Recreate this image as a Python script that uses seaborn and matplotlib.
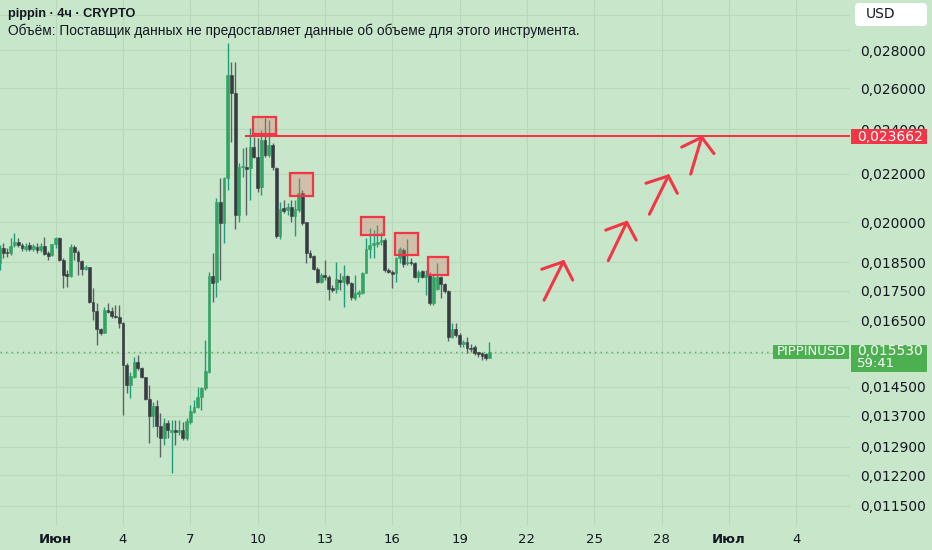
import numpy as np
import pandas as pd
import matplotlib
matplotlib.use("Agg")
import matplotlib.pyplot as plt
import matplotlib.dates as mdates
from matplotlib.patches import Rectangle, FancyBboxPatch
from matplotlib.ticker import FixedLocator, NullLocator
from matplotlib.transforms import IdentityTransform
import seaborn as sns

# pippin / USD, 4h candles
opens = [0.01846, 0.01901, 0.01889, 0.01883, 0.01914, 0.01926, 0.01914, 0.01899, 0.01914, 0.01898,
         0.01907, 0.01895, 0.01910, 0.01883, 0.01877, 0.01917, 0.01939, 0.01858, 0.01805, 0.01802,
         0.01905, 0.01889, 0.01856, 0.01827, 0.01832, 0.01713, 0.01683, 0.01623, 0.01611, 0.01685,
         0.01683, 0.01666, 0.01661, 0.01642, 0.01514, 0.01456, 0.01479, 0.01523, 0.01504, 0.01478,
         0.01415, 0.01370, 0.01397, 0.01343, 0.01312, 0.01352, 0.01329, 0.01333, 0.01328, 0.01333,
         0.01312, 0.01355, 0.01381, 0.01395, 0.01421, 0.01446, 0.01494, 0.01801, 0.01781, 0.02083,
         0.01996, 0.02180, 0.02668, 0.02574, 0.02029, 0.02227, 0.02230, 0.02223, 0.02316, 0.02274,
         0.02144, 0.02349, 0.02282, 0.02327, 0.02226, 0.01947, 0.02056, 0.02049, 0.02060, 0.02025,
         0.02049, 0.02119, 0.02000, 0.01885, 0.01873, 0.01825, 0.01781, 0.01805, 0.01798, 0.01758,
         0.01755, 0.01787, 0.01781, 0.01801, 0.01778, 0.01724, 0.01739, 0.01741, 0.01813, 0.01897,
         0.01914, 0.01917, 0.01926, 0.01932, 0.01822, 0.01816, 0.01811, 0.01864, 0.01895, 0.01846,
         0.01852, 0.01848, 0.01797, 0.01819, 0.01798, 0.01805, 0.01707, 0.01755, 0.01797, 0.01773,
         0.01749, 0.01600, 0.01623, 0.01605, 0.01577, 0.01584, 0.01564, 0.01569, 0.01549, 0.01549,
         0.01546, 0.01535]
highs = [0.01914, 0.01920, 0.01902, 0.01939, 0.01958, 0.01940, 0.01920, 0.01921, 0.01926, 0.01917,
         0.01920, 0.01921, 0.01945, 0.01892, 0.01919, 0.01945, 0.01945, 0.01864, 0.01822, 0.01917,
         0.01914, 0.01895, 0.01858, 0.01840, 0.01834, 0.01758, 0.01707, 0.01627, 0.01696, 0.01707,
         0.01696, 0.01702, 0.01702, 0.01647, 0.01519, 0.01494, 0.01538, 0.01543, 0.01508, 0.01479,
         0.01456, 0.01409, 0.01413, 0.01377, 0.01364, 0.01359, 0.01359, 0.01359, 0.01359, 0.01355,
         0.01364, 0.01400, 0.01413, 0.01451, 0.01451, 0.01589, 0.01816, 0.01883, 0.02096, 0.02180,
         0.02187, 0.02838, 0.02738, 0.02738, 0.02245, 0.02312, 0.02319, 0.02404, 0.02365, 0.02357,
         0.02396, 0.02451, 0.02443, 0.02334, 0.02230, 0.02083, 0.02089, 0.02076, 0.02089, 0.02089,
         0.02180, 0.02131, 0.02003, 0.01895, 0.01877, 0.01834, 0.01811, 0.01858, 0.01805, 0.01770,
         0.01852, 0.01811, 0.01840, 0.01805, 0.01781, 0.01805, 0.01752, 0.01816, 0.01939, 0.01977,
         0.01970, 0.01990, 0.01964, 0.01939, 0.01828, 0.01822, 0.01870, 0.01905, 0.01901, 0.01935,
         0.01864, 0.01852, 0.01822, 0.01822, 0.01822, 0.01816, 0.01805, 0.01846, 0.01801, 0.01776,
         0.01752, 0.01642, 0.01642, 0.01610, 0.01589, 0.01600, 0.01577, 0.01574, 0.01553, 0.01553,
         0.01550, 0.01584]
lows = [0.01822, 0.01864, 0.01869, 0.01877, 0.01907, 0.01906, 0.01892, 0.01891, 0.01892, 0.01891,
        0.01883, 0.01888, 0.01877, 0.01858, 0.01873, 0.01901, 0.01856, 0.01758, 0.01764, 0.01799,
        0.01858, 0.01805, 0.01805, 0.01822, 0.01707, 0.01653, 0.01574, 0.01605, 0.01610, 0.01674,
        0.01658, 0.01658, 0.01626, 0.01373, 0.01432, 0.01418, 0.01475, 0.01499, 0.01475, 0.01413,
        0.01299, 0.01342, 0.01316, 0.01265, 0.01294, 0.01312, 0.01226, 0.01294, 0.01320, 0.01307,
        0.01307, 0.01350, 0.01377, 0.01391, 0.01386, 0.01441, 0.01491, 0.01713, 0.01730, 0.01787,
        0.01920, 0.02131, 0.02342, 0.01973, 0.02003, 0.02187, 0.02029, 0.02089, 0.02267, 0.02124,
        0.02110, 0.02274, 0.02274, 0.02216, 0.01939, 0.01935, 0.02036, 0.02029, 0.02000, 0.01947,
        0.02042, 0.01990, 0.01848, 0.01864, 0.01822, 0.01776, 0.01776, 0.01787, 0.01718, 0.01747,
        0.01741, 0.01752, 0.01696, 0.01770, 0.01718, 0.01718, 0.01730, 0.01739, 0.01811, 0.01864,
        0.01864, 0.01907, 0.01914, 0.01816, 0.01811, 0.01758, 0.01781, 0.01846, 0.01834, 0.01840,
        0.01840, 0.01793, 0.01781, 0.01793, 0.01735, 0.01702, 0.01702, 0.01752, 0.01724, 0.01741,
        0.01587, 0.01595, 0.01600, 0.01569, 0.01569, 0.01549, 0.01553, 0.01543, 0.01538, 0.01528,
        0.01528, 0.01533]
closes = [0.01901, 0.01883, 0.01883, 0.01910, 0.01926, 0.01914, 0.01901, 0.01911, 0.01898, 0.01910,
          0.01895, 0.01911, 0.01880, 0.01873, 0.01916, 0.01939, 0.01858, 0.01805, 0.01802, 0.01905,
          0.01889, 0.01856, 0.01827, 0.01834, 0.01713, 0.01683, 0.01623, 0.01610, 0.01685, 0.01680,
          0.01666, 0.01661, 0.01642, 0.01514, 0.01456, 0.01481, 0.01523, 0.01504, 0.01478, 0.01415,
          0.01370, 0.01397, 0.01343, 0.01312, 0.01352, 0.01333, 0.01331, 0.01328, 0.01332, 0.01312,
          0.01357, 0.01384, 0.01395, 0.01421, 0.01446, 0.01497, 0.01801, 0.01778, 0.02083, 0.01996,
          0.02180, 0.02668, 0.02574, 0.02029, 0.02230, 0.02230, 0.02219, 0.02319, 0.02274, 0.02138,
          0.02349, 0.02282, 0.02327, 0.02230, 0.01947, 0.02052, 0.02046, 0.02060, 0.02025, 0.02052,
          0.02119, 0.01996, 0.01885, 0.01870, 0.01825, 0.01781, 0.01805, 0.01797, 0.01755, 0.01752,
          0.01789, 0.01781, 0.01801, 0.01778, 0.01728, 0.01741, 0.01743, 0.01813, 0.01897, 0.01914,
          0.01920, 0.01926, 0.01932, 0.01822, 0.01816, 0.01807, 0.01864, 0.01897, 0.01844, 0.01852,
          0.01846, 0.01797, 0.01816, 0.01798, 0.01805, 0.01709, 0.01798, 0.01798, 0.01773, 0.01749,
          0.01600, 0.01623, 0.01605, 0.01577, 0.01584, 0.01564, 0.01561, 0.01549, 0.01547, 0.01540,
          0.01535, 0.01553]

start = pd.Timestamp("2025-06-01")
times = pd.date_range("2025-05-29 12:00", periods=len(opens), freq="4h")

# gridline levels; the 0.030 and 0.0155 labels sit under the USD / price tags
price_ticks = [0.0115, 0.0122, 0.0129, 0.0137, 0.0145, 0.0155, 0.0165, 0.0175, 0.0185,
               0.020, 0.022, 0.024, 0.026, 0.028, 0.030]
hidden_ticks = [0.0155, 0.030]
day_ticks = ["2025-06-01", "2025-06-04", "2025-06-07", "2025-06-10", "2025-06-13", "2025-06-16",
             "2025-06-19", "2025-06-22", "2025-06-25", "2025-06-28", "2025-07-01", "2025-07-04"]
day_labels = ["Июн", "4", "7", "10", "13", "16", "19", "22", "25", "28", "Июл", "4"]

level_price = 0.023662
level_from_h = 202.6
last_price = 0.01553

# highlighted zones (hours after Jun 1, price range)
box_h0 = [210.8, 250.7, 326.3, 363.0, 398.6]
box_h1 = [235.7, 275.6, 351.5, 387.3, 420.0]
box_lo = [0.02377, 0.02106, 0.01951, 0.01877, 0.01805]
box_hi = [0.02459, 0.02204, 0.02022, 0.01960, 0.01870]

# hand-drawn arrows: tail -> tip, plus two head strokes
arr_tail_h = [522.4, 591.1, 635.0, 679.2]
arr_tail_p = [0.01718, 0.01856, 0.02032, 0.02198]
arr_tip_h = [543.0, 610.8, 655.3, 691.0]
arr_tip_p = [0.01852, 0.02000, 0.02190, 0.02362]
arr_hl_h = [519.9, 588.3, 631.4, 669.6]
arr_hl_p = [0.01825, 0.01970, 0.02159, 0.02317]
arr_hr_h = [553.0, 620.9, 664.9, 704.1]
arr_hr_p = [0.01787, 0.01932, 0.02117, 0.02288]

bg = "#C8E6C9"
grid_col = "#B8D8BA"
up_col, up_wick = "#33A364", "#1F9E7A"
dn_col, dn_wick = "#383C42", "#5E6266"
red = "#F23645"
green_lbl = "#4CAF50"
txt = "#131722"

sns.set_theme(style="whitegrid", rc={"axes.facecolor": bg, "figure.facecolor": bg,
                                     "grid.color": grid_col, "grid.linewidth": 0.8})
plt.rcParams["font.family"] = ["DejaVu Sans"]


def hnum(hours):
    return mdates.date2num(start + pd.to_timedelta(np.asarray(hours, dtype=float), unit="h"))


fig = plt.figure(figsize=(9.32, 5.5), dpi=100)
ax = fig.add_axes([0, 25 / 550, 850 / 932, 525 / 550])
ax.set_yscale("log")
ax.set_ylim(0.011071, 0.030887)
x_left, x_right = hnum([-59.5, 849.6])
ax.set_xlim(x_left, x_right)

# candles
x = mdates.date2num(times)
o, h, l, c = map(np.array, (opens, highs, lows, closes))
up = c >= o
body_lo = np.minimum(o, c)
body_hi = np.maximum(np.maximum(o, c), body_lo * 1.003)
body_col = np.where(up, up_col, dn_col)
ax.vlines(x, l, h, colors=np.where(up, up_wick, dn_wick), lw=1.0, zorder=2)
ax.bar(x, body_hi - body_lo, bottom=body_lo, width=0.76 / 6,
       color=body_col, edgecolor=body_col, linewidth=0.4, zorder=3)

# last price + resistance level
ax.axhline(last_price, color=green_lbl, lw=1.0, ls=(0, (1, 3)), zorder=1)
ax.hlines(level_price, hnum([level_from_h])[0], x_right, color=red, lw=1.5, zorder=4)

for h0, h1, lo, hi in zip(box_h0, box_h1, box_lo, box_hi):
    x0, x1 = hnum([h0, h1])
    ax.add_patch(Rectangle((x0, lo), x1 - x0, hi - lo, facecolor=(0.88, 0.47, 0.43, 0.34),
                           edgecolor=red, lw=1.6, zorder=5))

for i in range(len(arr_tip_h)):
    tip = (hnum([arr_tip_h[i]])[0], arr_tip_p[i])
    for hh, pp in ((arr_tail_h[i], arr_tail_p[i]), (arr_hl_h[i], arr_hl_p[i]), (arr_hr_h[i], arr_hr_p[i])):
        ax.plot([hnum([hh])[0], tip[0]], [pp, tip[1]], color=red, lw=2.2,
                solid_capstyle="round", zorder=6)

# axes styling
ax.yaxis.set_major_locator(FixedLocator(price_ticks))
ax.yaxis.set_minor_locator(NullLocator())
ax.set_yticklabels(["" if v in hidden_ticks else f"{v:.6f}".replace(".", ",") for v in price_ticks])
ax.yaxis.tick_right()
ax.tick_params(axis="y", length=0, pad=7, labelsize=10, labelcolor=txt)
ax.set_xticks(mdates.date2num(pd.to_datetime(day_ticks)))
ax.set_xticklabels(day_labels)
ax.xaxis.set_minor_locator(NullLocator())
ax.tick_params(axis="x", length=0, pad=6, labelsize=9.5, labelcolor=txt)
for lab in ax.get_xticklabels():
    if not lab.get_text().isdigit():
        lab.set_fontweight("bold")
ax.grid(True, color=grid_col, lw=0.8)
for s in ax.spines.values():
    s.set_visible(False)

# price-axis tags (pixel coords)
H = 550


def py(price):
    return ax.transData.transform((x_left, price))[1]


ident = IdentityTransform()
yl = py(level_price)
fig.add_artist(Rectangle((851, yl - 8), 76, 15.5, facecolor=red, edgecolor="none", transform=ident))
fig.text(857 / 932, (yl - 0.5) / H, "0,023662", color="white", fontsize=10, va="center")

yp = py(last_price)
fig.add_artist(Rectangle((773, yp - 7), 76, 14, facecolor=green_lbl, edgecolor="none", transform=ident))
fig.text(811 / 932, yp / H, "PIPPINUSD", color="white", fontsize=9.5, va="center", ha="center")
fig.add_artist(Rectangle((851, yp - 20), 76, 26.5, facecolor=green_lbl, edgecolor="none", transform=ident))
fig.text(857 / 932, (yp + 0.5) / H, "0,015530", color="white", fontsize=10, va="center")
fig.text(857 / 932, (yp - 12) / H, "59:41", color="white", fontsize=9.5, va="center")

fig.add_artist(FancyBboxPatch((855, H - 26), 72, 23, boxstyle="round,pad=0,rounding_size=4",
                              facecolor="white", edgecolor="none", transform=ident))
fig.text(866 / 932, (H - 14.5) / H, "USD", color=txt, fontsize=10, va="center")

# header
fig.text(8 / 932, 1 - 14 / H, "pippin · 4ч · CRYPTO", fontsize=9.2, fontweight="bold",
         color=txt, va="center", family=["Liberation Sans", "DejaVu Sans"])
fig.text(8 / 932, 1 - 31 / H,
         "Объём: Поставщик данных не предоставляет данные об объеме для этого инструмента.",
         fontsize=9.9, color=txt, va="center", family=["Liberation Sans", "DejaVu Sans"])

fig.savefig("out.png", dpi=100, facecolor=bg)
